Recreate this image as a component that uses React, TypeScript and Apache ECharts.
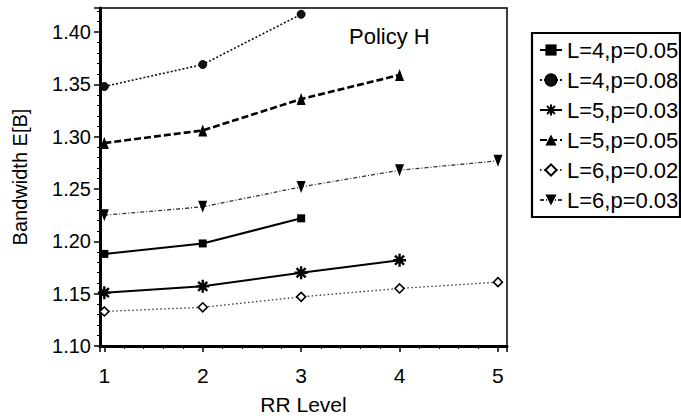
import React, { useEffect, useRef } from 'react';
import * as echarts from 'echarts';

const rrLevels = [1, 2, 3, 4, 5];
const seriesNames = ['L=4,p=0.05', 'L=4,p=0.08', 'L=5,p=0.03', 'L=5,p=0.05', 'L=6,p=0.02', 'L=6,p=0.03'];
const l4p05 = [1.188, 1.198, 1.222];
const l4p08 = [1.348, 1.369, 1.417];
const l5p03 = [1.151, 1.157, 1.170, 1.182];
const l5p05 = [1.294, 1.306, 1.336, 1.359];
const l6p02 = [1.133, 1.137, 1.147, 1.155, 1.161];
const l6p03 = [1.225, 1.233, 1.252, 1.268, 1.277];
const yTickLabels = ['1.10', '1.15', '1.20', '1.25', '1.30', '1.35', '1.40'];
const xTickLabels = ['1', '2', '3', '4', '5'];
const titleText = 'Policy H';
const xName = 'RR Level';
const yName = 'Bandwidth E[B]';

const FONT = 'Liberation Sans, Arial, Helvetica, sans-serif';
const ASTERISK = 'path://M10,0L10,20M0,10L20,10M3,3L17,17M3,17L17,3';

const toPairs = (vals: number[]) => vals.map((v, i) => [rrLevels[i], v]);

export default function App() {
  const ref = useRef<HTMLDivElement>(null);
  useEffect(() => {
    if (!ref.current) return;
    const chart = echarts.init(ref.current, undefined, { renderer: 'svg' });
    const seriesData = [l4p05, l4p08, l5p03, l5p05, l6p02, l6p03];
    const styles: any[] = [
      { symbol: 'rect', symbolSize: 8, line: { color: '#000', width: 2, type: 'solid' }, item: { color: '#000' } },
      { symbol: 'circle', symbolSize: 8, line: { color: '#111', width: 1.6, type: [2, 2] }, item: { color: '#111', borderColor: '#000', borderWidth: 1 } },
      { symbol: ASTERISK, symbolSize: 13, line: { color: '#000', width: 2, type: 'solid' }, item: { color: '#000', borderColor: '#000', borderWidth: 2.4 } },
      { symbol: 'triangle', symbolSize: [9, 12], line: { color: '#000', width: 2.6, type: [7, 3] }, item: { color: '#000' } },
      { symbol: 'diamond', symbolSize: 9, line: { color: '#333', width: 1.3, type: [1.5, 2.5] }, item: { color: '#fff', borderColor: '#000', borderWidth: 1.6 } },
      { symbol: 'triangle', symbolSize: [9, 12], symbolRotate: 180, line: { color: '#333', width: 1.3, type: [4, 2, 1, 2] }, item: { color: '#000' } },
    ];
    const series = seriesNames.map((name, i) => ({
      name,
      type: 'line',
      data: toPairs(seriesData[i]),
      symbol: styles[i].symbol,
      symbolSize: styles[i].symbolSize,
      symbolRotate: styles[i].symbolRotate || 0,
      showAllSymbol: true,
      lineStyle: styles[i].line,
      itemStyle: styles[i].item,
      color: '#000',
    }));
    const isMultiple = (v: number, step: number) => Math.abs(v / step - Math.round(v / step)) < 1e-6;
    chart.setOption({
      animation: false,
      backgroundColor: '#fff',
      textStyle: { fontFamily: FONT },
      grid: { left: 100, top: 8, width: 407, height: 340, show: true, borderColor: '#000', borderWidth: 1.5, backgroundColor: 'transparent' },
      xAxis: {
        type: 'value',
        min: 0.956,
        max: 5.092,
        minInterval: 1,
        maxInterval: 1,
        name: xName,
        nameLocation: 'middle',
        nameGap: 48,
        nameTextStyle: { fontSize: 21, color: '#000', fontFamily: FONT },
        axisLine: { show: true, lineStyle: { color: '#000', width: 3 } },
        axisTick: { show: true, length: 6, lineStyle: { color: '#000', width: 1.5 } },
        minorTick: { show: true, splitNumber: 5, length: 3, lineStyle: { color: '#000', width: 1 } },
        splitLine: { show: false },
        axisLabel: {
          margin: 19,
          fontSize: 21,
          color: '#000',
          fontFamily: FONT,
          formatter: (v: number) => {
            const idx = rrLevels.indexOf(Math.round(v));
            return isMultiple(v, 1) && idx >= 0 ? xTickLabels[idx] : '';
          },
        },
      },
      yAxis: {
        type: 'value',
        min: 1.1,
        max: 1.423,
        interval: 0.05,
        name: yName,
        nameLocation: 'middle',
        nameGap: 70,
        nameTextStyle: { fontSize: 20, color: '#000', fontFamily: FONT },
        axisLine: { show: true, lineStyle: { color: '#000', width: 3 } },
        axisTick: { show: true, length: 6, lineStyle: { color: '#000', width: 1.5 } },
        minorTick: { show: true, splitNumber: 5, length: 3, lineStyle: { color: '#000', width: 1 } },
        splitLine: { show: false },
        axisLabel: {
          margin: 9,
          fontSize: 20,
          color: '#000',
          fontFamily: FONT,
          showMaxLabel: false,
          formatter: (v: number) => {
            if (!isMultiple(v, 0.05)) return '';
            const s = v.toFixed(2);
            return yTickLabels.indexOf(s) >= 0 ? s : '';
          },
        },
      },
      legend: {
        show: true,
        orient: 'vertical',
        left: 539,
        top: 39,
        padding: 0,
        itemWidth: 22,
        itemHeight: 14,
        itemGap: 8,
        data: seriesNames,
        textStyle: { fontSize: 22, color: '#000', fontFamily: FONT },
      },
      graphic: [
        {
          type: 'rect',
          shape: { x: 532, y: 33, width: 148, height: 184 },
          style: { fill: 'none', stroke: '#000', lineWidth: 2.2 },
          z: 1,
        },
        {
          type: 'text',
          x: 349,
          y: 36,
          style: { text: titleText, font: `22px ${FONT}`, fill: '#000', verticalAlign: 'middle' },
        },
      ],
      series,
    });
    return () => chart.dispose();
  }, []);
  return <div ref={ref} style={{ position: 'fixed', left: 0, top: 0, width: 681, height: 420, background: '#fff' }} />;
}
